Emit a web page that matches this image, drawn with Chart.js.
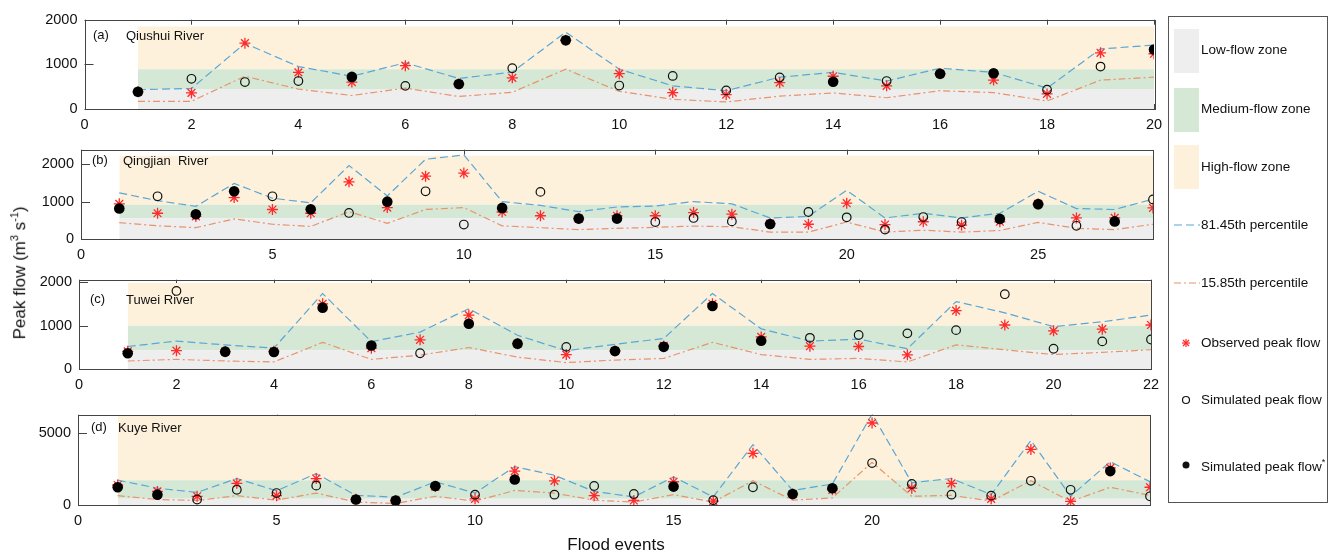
<!DOCTYPE html>
<html lang="en">
<head>
<meta charset="UTF-8">
<title>Peak flow by flood event</title>
<script src="https://cdn.jsdelivr.net/npm/chart.js"></script>
<style>
    body { margin: 0; background: #fff; font-family: Arial, "Liberation Sans", sans-serif; color: #111; }
    #page { position: relative; width: 1334px; height: 555px; overflow: hidden; }
    canvas { position: absolute; left: 0; }
    .tag { position: absolute; font-size: 13px; line-height: 16px; white-space: pre; }
    #ylabel { position: absolute; left: -83px; top: 260px; width: 200px; text-align: center; font-size: 17px; line-height: 20px; transform: rotate(-90deg); }
    #xlabel { position: absolute; left: 516px; top: 534px; width: 200px; text-align: center; font-size: 17px; line-height: 22px; }
    #legend { position: absolute; left: 1168px; top: 16px; width: 160px; height: 487px; border: 1px solid #555; box-sizing: border-box; }
    .item { position: absolute; left: 0; width: 158px; height: 20px; font-size: 13.5px; }
    .item span { position: absolute; left: 32px; top: 2px; white-space: nowrap; }
    .item svg { position: absolute; left: 5px; top: 0; }
    .patch { position: absolute; left: 5px; width: 25px; height: 44px; }
</style>
</head>
<body>
<div id="page">
    <canvas id="chartA"></canvas>
    <canvas id="chartB"></canvas>
    <canvas id="chartC"></canvas>
    <canvas id="chartD"></canvas>

    <div class="tag" style="left:93px;top:27px">(a)</div>
    <div class="tag" style="left:126px;top:28px">Qiushui River</div>
    <div class="tag" style="left:92px;top:152px">(b)</div>
    <div class="tag" style="left:123px;top:153px">Qingjian  River</div>
    <div class="tag" style="left:90px;top:291px">(c)</div>
    <div class="tag" style="left:126px;top:292px">Tuwei River</div>
    <div class="tag" style="left:91px;top:419px">(d)</div>
    <div class="tag" style="left:118px;top:420px">Kuye River</div>

    <div id="ylabel">Peak flow (m<sup style="font-size:11px">3</sup> s<sup style="font-size:11px">-1</sup>)</div>
    <div id="xlabel">Flood events</div>

    <div id="legend">
        <div class="patch" style="top:12px;background:#eeeeee"></div>
        <div class="item" style="top:23px"><span>Low-flow zone</span></div>
        <div class="patch" style="top:71px;background:#d5e8d6"></div>
        <div class="item" style="top:82px"><span>Medium-flow zone</span></div>
        <div class="patch" style="top:128px;background:#fdf1dc"></div>
        <div class="item" style="top:140px"><span>High-flow zone</span></div>
        <div class="item" style="top:198px">
            <svg width="26" height="20"><line x1="0" y1="10" x2="26" y2="10" stroke="#5aa6d6" stroke-width="1.2" stroke-dasharray="8,4"/></svg>
            <span>81.45th percentile</span></div>
        <div class="item" style="top:256px">
            <svg width="26" height="20"><line x1="0" y1="10" x2="26" y2="10" stroke="#e8936a" stroke-width="1.2" stroke-dasharray="7,3,2,3"/></svg>
            <span>15.85th percentile</span></div>
        <div class="item" style="top:316px">
            <svg width="26" height="20"><g stroke="#ff2a2a" stroke-width="1.2">
                <line x1="12" y1="6" x2="12" y2="14"/><line x1="8" y1="10" x2="16" y2="10"/>
                <line x1="9" y1="7" x2="15" y2="13"/><line x1="15" y1="7" x2="9" y2="13"/></g></svg>
            <span>Observed peak flow</span></div>
        <div class="item" style="top:373px">
            <svg width="26" height="20"><circle cx="12" cy="10" r="3.5" fill="#fff" stroke="#111" stroke-width="1.2"/></svg>
            <span>Simulated peak flow</span></div>
        <div class="item" style="top:438px">
            <svg width="26" height="20"><circle cx="12" cy="10" r="3.5" fill="#111"/></svg>
            <span>Simulated peak flow<sup style="font-size:9px">*</sup></span></div>
    </div>
</div>

<script>
    // (a) Qiushui River, 20 flood events
    const qiushuiUpper = [432, 460, 1470, 950, 734, 1036, 683, 827, 1720, 892, 518, 410, 712, 820, 626, 914, 820, 468, 1345, 1432];
    const qiushuiLower = [173, 173, 734, 446, 302, 468, 280, 374, 892, 396, 216, 158, 288, 360, 252, 410, 367, 180, 647, 712];
    const qiushuiObs = [385, 360, 1475, 820, 604, 971, 560, 698, 1540, 791, 367, 324, 590, 734, 518, 790, 647, 338, 1259, 1237];
    const qiushuiSim = [null, 676, 604, 626, null, 518, null, 914, null, 525, 741, 417, 705, null, 626, null, null, 432, 950, null];
    const qiushuiSimIn = [388, null, null, null, 719, null, 561, null, 1540, null, null, null, null, 611, null, 791, 799, null, null, 1331];
    const qiushuiZones = [446, 892, 1850];
    const qiushuiXTicks = [0, 2, 4, 6, 8, 10, 12, 14, 16, 18, 20];
    const qiushuiYTicks = [0, 1000, 2000];

    // (b) Qingjian River, 28 flood events
    const qingjianUpper = [1235, 1025, 874, 1487, 1092, 966, 1966, 1151, 2134, 2250, 1000, 899, 731, 857, 882, 1000, 941, 563, 605, 1303, 563, 689, 563, 689, 1277, 815, 790, 1067];
    const qingjianLower = [437, 353, 303, 538, 395, 336, 731, 420, 790, 840, 353, 303, 252, 286, 311, 345, 328, 185, 185, 454, 185, 235, 185, 227, 445, 286, 252, 395];
    const qingjianObs = [941, 689, 605, 1109, 790, 689, 1529, 840, 1681, 1765, 723, 622, 546, 622, 622, 706, 664, 410, 395, 958, 387, 462, 370, 462, 940, 563, 563, 832];
    const qingjianSim = [null, 1143, null, null, 1143, null, 697, null, 1277, 387, null, 1261, null, null, 454, 563, 471, null, 723, 580, 252, 588, 454, null, null, 353, null, 1059];
    const qingjianSimIn = [815, null, 664, 1277, null, 798, null, 1000, null, null, 832, null, 546, 546, null, null, null, 403, null, null, null, null, null, 538, 933, null, 471, null];
    const qingjianZones = [553, 919, 2228];
    const qingjianXTicks = [0, 5, 10, 15, 20, 25];
    const qingjianYTicks = [0, 1000, 2000];

    // (c) Tuwei River, 22 flood events
    const tuweiUpper = [519, 644, 556, 481, 1741, 630, 852, 1393, 778, 422, 570, 704, 1741, 926, 644, 689, 467, 1556, 1296, 978, 1089, 1244];
    const tuweiLower = [185, 222, 185, 163, 615, 222, 319, 496, 274, 148, 207, 244, 615, 333, 222, 244, 163, 556, 444, 333, 385, 444];
    const tuweiObs = [407, 422, 400, 407, 1504, 481, 674, 1244, 585, 333, 415, 533, 1504, 741, 526, 519, 326, 1348, 1015, 881, 919, 1015];
    const tuweiSim = [null, 1800, null, null, null, null, 363, null, null, 511, null, null, null, null, 719, 785, 822, 896, 1726, 467, 637, 681];
    const tuweiSimIn = [363, null, 400, 393, 1415, 541, null, 1044, 585, null, 415, 511, 1452, 652, null, null, null, null, null, null, null, null];
    const tuweiZones = [430, 1000, 1985];
    const tuweiXTicks = [0, 2, 4, 6, 8, 10, 12, 14, 16, 18, 20, 22];
    const tuweiYTicks = [0, 1000, 2000];

    // (d) Kuye River, 27 flood events
    const kuyeUpper = [1734, 1171, 878, 1847, 991, 2185, 676, 541, 1622, 833, 2680, 2072, 946, 563, 1959, 563, 4212, 1014, 1464, 6350, 1554, 1847, 721, 4505, 608, 3018, 1622];
    const kuyeLower = [653, 383, 315, 653, 338, 833, 203, 113, 608, 270, 1014, 833, 338, 203, 721, 203, 1689, 338, 495, 2973, 608, 676, 270, 1689, 248, 1239, 676];
    const kuyeObs = [1396, 946, 608, 1509, 653, 1847, 400, 310, 1284, 428, 2365, 1689, 653, 315, 1622, 270, 3604, 760, 1059, 5721, 1171, 1509, 428, 3874, 248, 2590, 1239];
    const kuyeSim = [null, null, 383, 1059, 833, 1351, null, null, null, 721, null, 721, 1329, 766, null, 338, 1239, null, null, 2928, 1464, 721, 653, 1689, 1059, null, 608];
    const kuyeSimIn = [1239, 721, null, null, null, null, 383, 315, 1329, null, 1779, null, null, null, 1284, null, null, 766, 1171, null, null, null, null, null, null, 2365, null];
    const kuyeZones = [430, 1734, 6240];
    const kuyeXTicks = [0, 5, 10, 15, 20, 25];
    const kuyeYTicks = [0, 5000];

    const FONT = 'Arial, "Liberation Sans", sans-serif';

    // matlab-like box: inward ticks under the zones, frame on top
    const frame = {
        id: 'frame',
        beforeDraw(chart) {
            const { ctx, chartArea: a, scales: { x, y } } = chart;
            ctx.save();
            ctx.strokeStyle = '#444';
            ctx.lineWidth = 1;
            ctx.beginPath();
            x.ticks.forEach(t => {
                const px = Math.round(x.getPixelForValue(t.value)) + 0.5;
                ctx.moveTo(px, a.top); ctx.lineTo(px, a.top + 5);
                ctx.moveTo(px, a.bottom); ctx.lineTo(px, a.bottom - 5);
            });
            y.ticks.forEach(t => {
                const py = Math.round(y.getPixelForValue(t.value)) + 0.5;
                ctx.moveTo(a.left, py); ctx.lineTo(a.left + 9, py);
            });
            ctx.stroke();
            ctx.restore();
        },
        afterDraw(chart) {
            const { ctx, chartArea: a } = chart;
            ctx.save();
            ctx.strokeStyle = '#444';
            ctx.lineWidth = 1;
            ctx.strokeRect(Math.round(a.left) + 0.5, Math.round(a.top) + 0.5,
                Math.round(a.right - a.left), Math.round(a.bottom - a.top));
            ctx.restore();
        }
    };

    function pts(arr) {
        return arr.map((v, i) => ({ x: i + 1, y: v }));
    }

    function zone(xMax, level, color, fill) {
        return {
            data: [{ x: 1, y: level }, { x: xMax, y: level }],
            borderWidth: 0, borderColor: 'transparent', pointRadius: 0,
            backgroundColor: color, fill: fill, order: 5
        };
    }

    function drawPanel(id, box, upper, lower, obs, sim, simIn, zones, xTicks, yTicks, yMax) {
        const xMax = upper.length;
        const padTop = 12, padRight = 20, axisH = 30;
        const el = document.getElementById(id);
        el.style.top = (box.top - padTop) + 'px';
        el.style.width = (box.right + padRight) + 'px';
        el.style.height = (box.bottom - box.top + padTop + axisH) + 'px';
        const tickFont = { family: FONT, size: 14.5 };

        new Chart(el, {
            type: 'line',
            data: {
                datasets: [
                    zone(xMax, zones[0], '#eeeeee', 'origin'),
                    zone(xMax, zones[1], '#d5e8d6', '-1'),
                    zone(xMax, zones[2], '#fdf1dc', '-1'),
                    {
                        data: pts(upper), borderColor: '#5aa6d6', borderWidth: 1.2,
                        borderDash: [8, 4], pointRadius: 0, fill: false, order: 4
                    },
                    {
                        data: pts(lower), borderColor: '#e8936a', borderWidth: 1.2,
                        borderDash: [7, 3, 2, 3], pointRadius: 0, fill: false, order: 4
                    },
                    {
                        data: pts(obs), showLine: false, pointStyle: 'star', pointRadius: 5.5,
                        borderColor: '#ff2a2a', borderWidth: 1.3, order: 3
                    },
                    {
                        data: pts(sim), showLine: false, pointStyle: 'circle', pointRadius: 4.3,
                        backgroundColor: 'rgba(255,255,255,0)', borderColor: '#111', borderWidth: 1.2, order: 2
                    },
                    {
                        data: pts(simIn), showLine: false, pointStyle: 'circle', pointRadius: 5.3,
                        backgroundColor: '#000', borderColor: '#000', borderWidth: 0, order: 1
                    }
                ]
            },
            options: {
                responsive: false,
                animation: false,
                devicePixelRatio: 1,
                layout: { padding: { top: padTop, right: padRight, left: 0, bottom: 0 } },
                plugins: { legend: { display: false }, tooltip: { enabled: false } },
                scales: {
                    x: {
                        type: 'linear', min: 0, max: xMax,
                        grid: { display: false, drawTicks: false },
                        border: { display: false },
                        afterBuildTicks: s => { s.ticks = xTicks.map(v => ({ value: v })); },
                        ticks: { padding: 7, maxRotation: 0, autoSkip: false, color: '#111', font: tickFont,
                                 callback: v => String(v) },
                        afterFit: s => { s.height = axisH; }
                    },
                    y: {
                        min: 0, max: yMax,
                        grid: { display: false, drawTicks: false },
                        border: { display: false },
                        afterBuildTicks: s => { s.ticks = yTicks.map(v => ({ value: v })); },
                        ticks: { padding: 7, autoSkip: false, color: '#111', font: tickFont,
                                 callback: v => String(v) },
                        afterFit: s => { s.width = box.left; }
                    }
                }
            },
            plugins: [frame]
        });
    }

    drawPanel('chartA', { left: 84.5, right: 1154, top: 15.5, bottom: 109 },
        qiushuiUpper, qiushuiLower, qiushuiObs, qiushuiSim, qiushuiSimIn, qiushuiZones, qiushuiXTicks, qiushuiYTicks, 2000);
    drawPanel('chartB', { left: 81, right: 1153, top: 145.5, bottom: 238.5 },
        qingjianUpper, qingjianLower, qingjianObs, qingjianSim, qingjianSimIn, qingjianZones, qingjianXTicks, qingjianYTicks, 2390);
    drawPanel('chartC', { left: 79, right: 1151, top: 276, bottom: 369 },
        tuweiUpper, tuweiLower, tuweiObs, tuweiSim, tuweiSimIn, tuweiZones, tuweiXTicks, tuweiYTicks, 2060);
    drawPanel('chartD', { left: 78, right: 1150, top: 410.5, bottom: 504.5 },
        kuyeUpper, kuyeLower, kuyeObs, kuyeSim, kuyeSimIn, kuyeZones, kuyeXTicks, kuyeYTicks, 6300);
</script>
</body>
</html>
